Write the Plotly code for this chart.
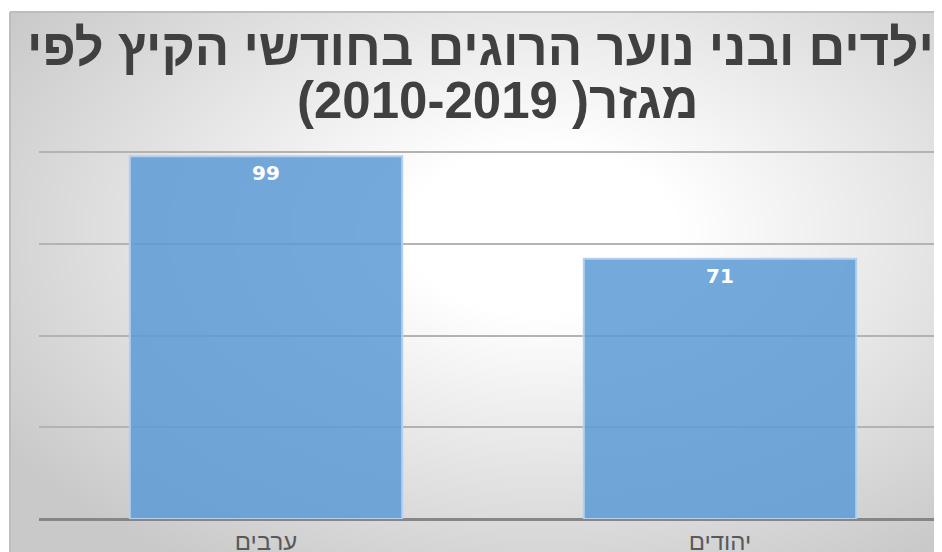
import base64, struct, zlib
import numpy as np
import plotly.graph_objects as go

# ---- data ----
categories = ["ערבים", "יהודים"]
values = [99, 71]
title_lines = ["ילדים ובני נוער הרוגים בחודשי הקיץ לפי", "מגזר( 2010-2019)"]

W, H = 942, 552
OFF = 8  # page body margin; positions below are page pixels minus this offset
YMAX = 100.4
ML = 39 - OFF
MB = H - (519 - OFF)
PH = round(367 * YMAX / 100)
MT = H - MB - PH
MR = 0
PW = W - ML - MR


def gradient_png(w, h):
    ys, xs = np.mgrid[0:h, 0:w]
    px = 10 + xs * (940 / w)
    py = 12 + ys * (548 / h)
    r = np.sqrt(((px - 540) / 470) ** 2 + ((py - 230) / 290) ** 2)
    t = np.clip((r - 0.3) / 1.08, 0, 1)
    g = (255 - 54 * t).astype(np.uint8)
    raw = b"".join(b"\x00" + g[i].tobytes() for i in range(h))

    def chunk(tag, data):
        c = struct.pack(">I", len(data)) + tag + data
        return c + struct.pack(">I", zlib.crc32(tag + data) & 0xFFFFFFFF)

    png = b"\x89PNG\r\n\x1a\n"
    png += chunk(b"IHDR", struct.pack(">IIBBBBB", w, h, 8, 0, 0, 0, 0))
    png += chunk(b"IDAT", zlib.compress(raw, 9))
    png += chunk(b"IEND", b"")
    return "data:image/png;base64," + base64.b64encode(png).decode()


def to_px(x):  # page pixel x -> paper
    return (x - OFF - ML) / PW


def to_py(y):  # page pixel y -> paper
    return (H - MB - (y - OFF)) / PH


fig = go.Figure(
    go.Bar(
        x=categories,
        y=values,
        marker=dict(color="rgba(91,155,213,0.85)", line=dict(color="#b4d0ee", width=2)),
        width=0.6,
        hoverinfo="skip",
    )
)

RLM = "\u200f"
annotations = []
for c, v in zip(categories, values):
    annotations.append(dict(
        x=c, y=v, xref="x", yref="y", text=str(v), showarrow=False,
        yanchor="top", yshift=-3,
        font=dict(family="DejaVu Sans", size=20, color="white", weight="bold"),
    ))
for txt, ypix, xpix in zip(title_lines, [47, 101], [480, 498]):
    annotations.append(dict(
        x=to_px(xpix), y=to_py(ypix), xref="paper", yref="paper",
        text=RLM + txt + RLM, showarrow=False, xanchor="center", yanchor="middle",
        font=dict(family="Liberation Sans", size=51, color="#404040", weight="bold"),
    ))

fig.update_layout(
    width=W,
    height=H,
    margin=dict(l=ML, r=MR, t=MT, b=MB, autoexpand=False),
    paper_bgcolor="white",
    plot_bgcolor="rgba(0,0,0,0)",
    showlegend=False,
    annotations=annotations,
    images=[
        dict(
            source=gradient_png(235, 137),
            xref="paper",
            yref="paper",
            x=to_px(10),
            y=to_py(12),
            sizex=940 / PW,
            sizey=548 / PH,
            xanchor="left",
            yanchor="top",
            sizing="stretch",
            layer="below",
        )
    ],
    shapes=[
        dict(type="line", xref="paper", yref="paper", x0=to_px(10), x1=to_px(950),
             y0=to_py(12), y1=to_py(12), line=dict(color="#bdbdbd", width=2)),
        dict(type="line", xref="paper", yref="paper", x0=to_px(10), x1=to_px(10),
             y0=to_py(12), y1=to_py(560), line=dict(color="#bdbdbd", width=2)),
    ],
    xaxis=dict(
        range=[-0.5, -0.5 + PW / 454],
        showgrid=False,
        showline=False,
        zeroline=False,
        automargin=False,
        ticks="outside",
        ticklen=1,
        tickcolor="rgba(0,0,0,0)",
        tickfont=dict(family="Liberation Sans", size=24, color="#595959"),
    ),
    yaxis=dict(
        range=[0, YMAX],
        tickvals=[0, 25, 50, 75, 100],
        showticklabels=False,
        showgrid=True,
        automargin=False,
        gridcolor="#b3b3b3",
        gridwidth=2,
        zeroline=True,
        zerolinecolor="#868686",
        zerolinewidth=3,
        showline=False,
    ),
)

fig.write_html("out.html")
